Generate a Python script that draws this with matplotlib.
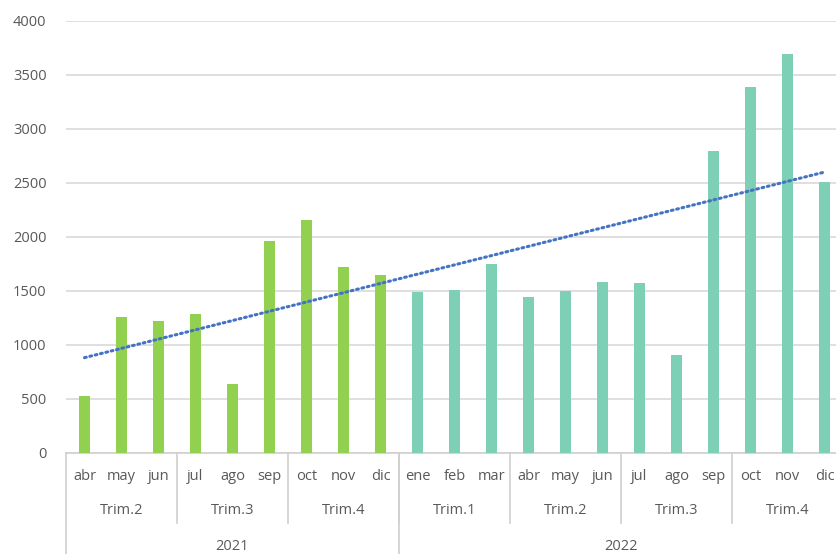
import matplotlib
matplotlib.use("Agg")
import matplotlib.pyplot as plt
import numpy as np
from matplotlib.transforms import blended_transform_factory

plt.rcParams['font.family'] = ['Open Sans', 'DejaVu Sans']

months = ["abr", "may", "jun", "jul", "ago", "sep", "oct", "nov", "dic",
          "ene", "feb", "mar", "abr", "may", "jun", "jul", "ago", "sep", "oct", "nov", "dic"]
quarters = ["Trim.2", "Trim.3", "Trim.4", "Trim.1", "Trim.2", "Trim.3", "Trim.4"]
quarter_sizes = [3, 3, 3, 3, 3, 3, 3]
years = ["2021", "2022"]
year_sizes = [9, 12]
values_2021 = [530, 1260, 1220, 1290, 640, 1960, 2160, 1720, 1650]
values_2022 = [1490, 1510, 1750, 1445, 1500, 1585, 1570, 910, 2800, 3390, 3690, 2510]

green = "#92D050"
teal = "#7DCFB6"
grey_txt = "#595959"
grid_c = "#D9D9D9"
axis_c = "#D0D0D0"

W, H = 836, 554
fig = plt.figure(figsize=(W / 100, H / 100), dpi=100)
left_px, right_px, y0_px, ytop_px = 66, 843, 453, 21
ax = fig.add_axes([left_px / W, (H - y0_px) / H, (right_px - left_px) / W, (y0_px - ytop_px) / H])

n = len(months)
x = np.arange(n)
all_vals = values_2021 + values_2022
colors = [green] * len(values_2021) + [teal] * len(values_2022)
ax.bar(x, all_vals, width=0.3, color=colors, zorder=3)

# linear trend line
coef = np.polyfit(x, all_vals, 1)
ax.plot(x, np.polyval(coef, x), linestyle=(0, (0.6, 1.2)), color="#4472C4",
        linewidth=2.2, zorder=4, dash_capstyle='round')

ax.set_xlim(-0.5, n - 0.5)
ax.set_ylim(0, 4000)
ax.set_yticks(np.arange(0, 4001, 500))
ax.grid(axis='y', color=grid_c, linewidth=1.2, zorder=0)
for s in ["left", "right", "top"]:
    ax.spines[s].set_visible(False)
ax.spines["bottom"].set_color(axis_c)
ax.spines["bottom"].set_linewidth(1.2)
ax.tick_params(axis='y', length=0, pad=14, labelsize=10.5, labelcolor=grey_txt)
ax.set_xticks([])

tr = blended_transform_factory(ax.transData, fig.transFigure)

def fy(px):
    return (H - px) / H

# month labels
for i, m in enumerate(months):
    ax.text(i, fy(477), m, transform=tr, ha='center', va='center',
            fontsize=10.5, color=grey_txt, clip_on=False)

# quarter labels and separators
pos = -0.5
ax.plot([-0.5, -0.5], [fy(y0_px), fy(H)], transform=tr, color=axis_c, lw=1.2, clip_on=False)
for q, sz in zip(quarters, quarter_sizes):
    ax.text(pos + sz / 2, fy(511), q, transform=tr, ha='center', va='center',
            fontsize=10.5, color=grey_txt, clip_on=False)
    pos += sz
    ax.plot([pos, pos], [fy(y0_px), fy(523)], transform=tr, color=axis_c, lw=1.2, clip_on=False)

pos = -0.5
for yname, sz in zip(years, year_sizes):
    ax.text(pos + sz / 2, fy(546), yname, transform=tr, ha='center', va='center',
            fontsize=10.5, color=grey_txt, clip_on=False)
    pos += sz
    ax.plot([pos, pos], [fy(y0_px), fy(H)], transform=tr, color=axis_c, lw=1.2, clip_on=False)

fig.savefig("out.png", dpi=100, facecolor="white")
